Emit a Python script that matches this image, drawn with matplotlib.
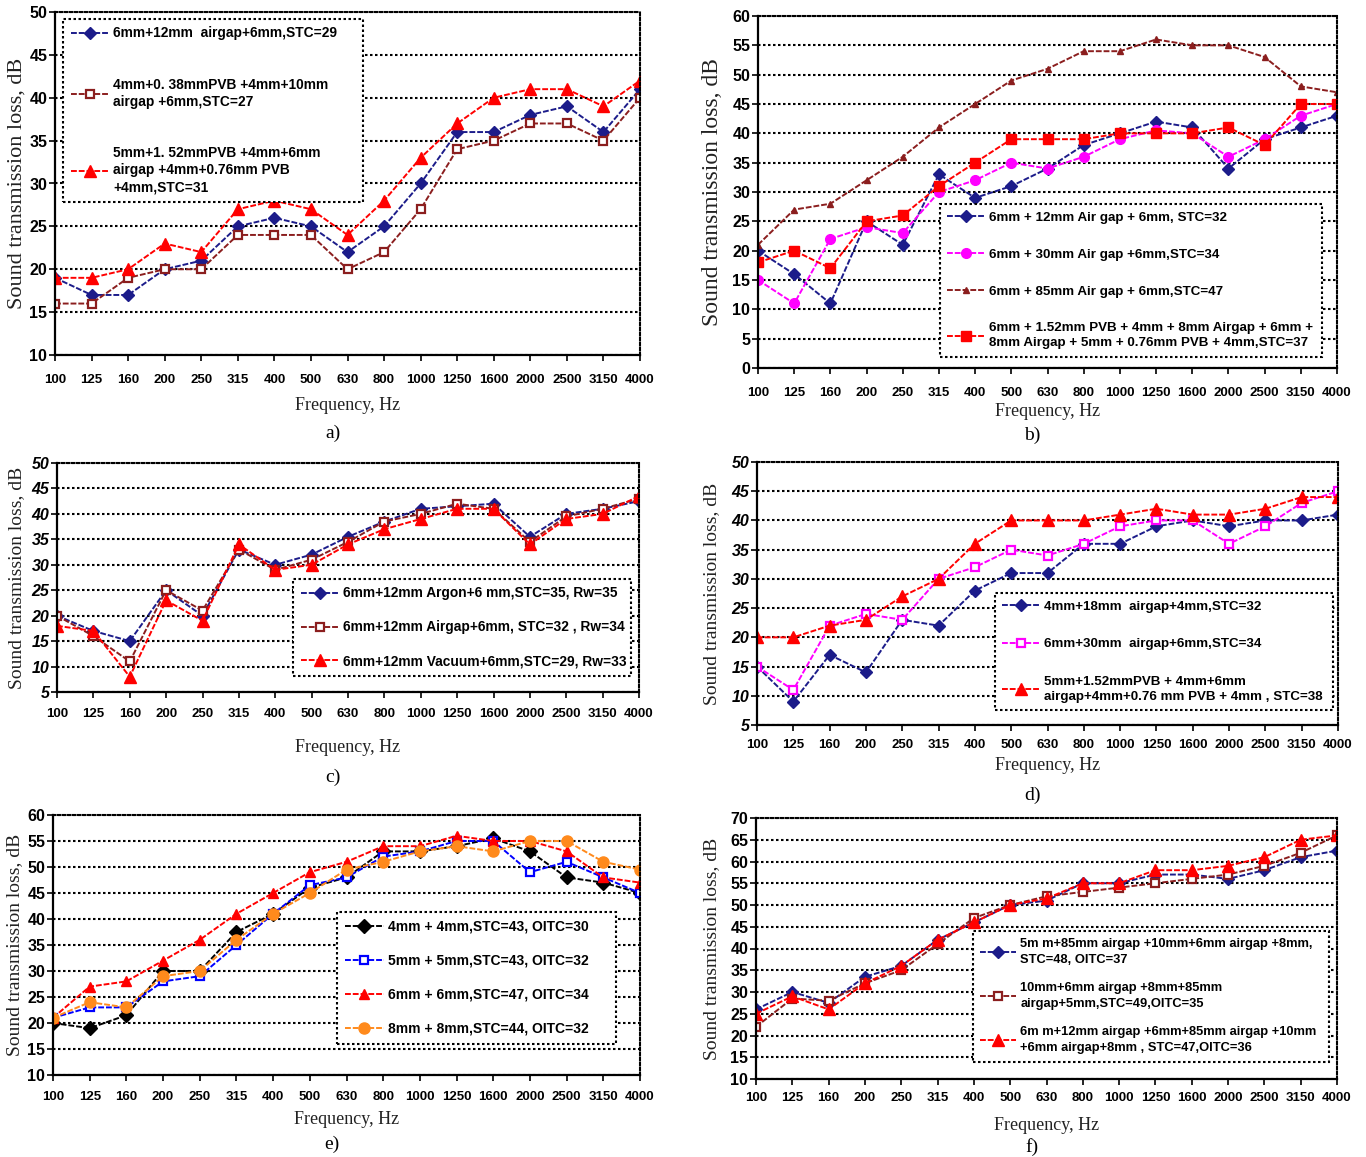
import matplotlib

matplotlib.use("Agg")
import matplotlib.pyplot as plt

W, H = 1366, 1157

FREQS = ["100", "125", "160", "200", "250", "315", "400", "500", "630",
         "800", "1000", "1250", "1600", "2000", "2500", "3150", "4000"]

# a) double glazing vs laminated units
A_AIR12 = [19, 17, 17, 20, 21, 25, 26, 25, 22, 25, 30, 36, 36, 38, 39, 36, 41]
A_PVB038 = [16, 16, 19, 20, 20, 24, 24, 24, 20, 22, 27, 34, 35, 37, 37, 35, 40]
A_PVB152 = [19, 19, 20, 23, 22, 27, 28, 27, 24, 28, 33, 37, 40, 41, 41, 39, 42]

# b) air gap width
B_AIR12 = [20, 16, 11, 25, 21, 33, 29, 31, 34, 38, 40, 42, 41, 34, 39, 41, 43]
B_AIR30 = [15, 11, 22, 24, 23, 30, 32, 35, 34, 36, 39, 40.5, 40, 36, 39, 43, 45]
B_AIR85 = [21, 27, 28, 32, 36, 41, 45, 49, 51, 54, 54, 56, 55, 55, 53, 48, 47]
B_TRIPLE = [18, 20, 17, 25, 26, 31, 35, 39, 39, 39, 40, 40, 40, 41, 38, 45, 45]

# c) gas fill
C_ARGON = [20, 17, 15, 25, 20, 33, 30, 32, 35.5, 38.5, 41, 41.5, 42, 35.5, 40, 41, 42.5]
C_AIR = [20, 16, 11, 25, 21, 33, 29, 31, 34.5, 38.5, 40, 42, 41, 34.5, 39.5, 41, 43]
C_VACUUM = [18, 17, 8, 23, 19, 34, 29, 30, 34, 37, 39, 41, 41, 34, 39, 40, 43.5]

# d) thin units vs laminated
D_AIR18 = [15, 9, 17, 14, 23, 22, 28, 31, 31, 36, 36, 39, 40, 39, 40, 40, 41]
D_AIR30 = [15, 11, 22, 24, 23, 30, 32, 35, 34, 36, 39, 40, 40, 36, 39, 43, 45]
D_PVB = [20, 20, 22, 23, 27, 30, 36, 40, 40, 40, 41, 42, 41, 41, 42, 44, 44]

# e) pane thickness
E_4MM = [20, 19, 21.5, 30, 30, 37.5, 41, 46, 48, 53, 53, 54, 55.5, 53, 48, 47, 45]
E_5MM = [21, 23, 23, 28, 29, 35, 41, 46.5, 48, 52, 53, 55, 55, 49, 51, 48, 45]
E_6MM = [21, 27, 28, 32, 36, 41, 45, 49, 51, 54, 54, 56, 55, 55, 53, 48, 47]
E_8MM = [21, 24, 23, 29, 30, 36, 41, 45, 49.5, 51, 53, 54, 53, 55, 55, 51, 49.5]

# f) triple glazing with wide gaps
F_UNIT1 = [26, 30, 27.5, 33.5, 36, 42, 46, 50, 51, 55, 55, 57, 57, 56, 58, 61, 62.5]
F_UNIT2 = [22, 28.5, 28, 32, 35, 41, 47, 50, 52, 53, 54, 55, 56, 57, 59, 62, 66]
F_UNIT3 = [25, 29, 26, 32, 36, 42, 46, 50, 51.5, 55, 55, 58, 58, 59, 61, 65, 66]

NAVY = "#1c1c8a"
DRED = "#8b1e1e"
RED = "#ff0000"
MAG = "#ff00ff"
BLUE = "#0000ff"
ORANGE = "#ff8a1c"

SANS = ["Liberation Sans", "DejaVu Sans"]
SERIF = "Liberation Serif"


def rect(l, t, r, b):
    return [l / W, 1 - b / H, (r - l) / W, (b - t) / H]


def fx(x):
    return x / W


def fy(y):
    return 1 - y / H


def panel(fig, box, ylim, series, leg_box, leg_size, spacing, line_sp, italic_y,
          xpad, ylab_x, ylab_size, xlab_y, letter, letter_y):
    ax = fig.add_axes(rect(*box))
    x = list(range(len(FREQS)))
    for vals, label, color, marker, hollow, ms in series:
        ax.plot(x, vals, color=color, lw=1.4, ls=(0, (3, 1)), marker=marker,
                ms=ms, mfc="white" if hollow else color, mec=color,
                mew=1.6 if hollow else 1, label=label)
    ax.set_xlim(0, len(FREQS) - 1)
    ax.set_ylim(*ylim)
    ax.set_yticks(range(ylim[0], ylim[1] + 1, 5))
    ax.set_xticks(x)
    ax.set_xticklabels(FREQS, fontsize=9.5, fontweight="bold", family=SANS)
    for t in ax.get_yticklabels():
        t.set_fontsize(11.5)
        t.set_fontweight("bold")
        t.set_family(SANS)
        if italic_y:
            t.set_style("italic")
    ax.tick_params(axis="x", length=4, width=1.2, pad=xpad)
    ax.tick_params(axis="y", length=4, width=1.2, pad=1.5)
    ax.yaxis.grid(True, color="black", ls=(0, (1.2, 1.2)), lw=1.5)
    ax.set_axisbelow(True)
    for s in ("top", "right"):
        ax.spines[s].set_linestyle((0, (1.2, 1.2)))
        ax.spines[s].set_linewidth(1.5)
    for s in ("left", "bottom"):
        ax.spines[s].set_linewidth(1.6)

    l, t, r, b = leg_box
    leg = ax.legend(loc="upper left", bbox_to_anchor=(fx(l), fy(t), fx(r) - fx(l), 0.001),
                    bbox_transform=fig.transFigure, mode="expand", borderaxespad=0,
                    prop={"family": SANS, "weight": "bold", "size": leg_size},
                    labelspacing=spacing, handlelength=2.8, handletextpad=0.3,
                    fancybox=False, framealpha=1, borderpad=0.55)
    fr = leg.get_frame()
    fr.set_edgecolor("black")
    fr.set_linestyle((0, (1.2, 1.2)))
    fr.set_linewidth(1.5)
    for txt in leg.get_texts():
        txt.set_linespacing(line_sp)

    cx = (box[0] + box[2]) / 2
    cy = (box[1] + box[3]) / 2
    fig.text(fx(ylab_x), fy(cy), "Sound transmission loss, dB", rotation=90,
             ha="center", va="center", family=SERIF, fontsize=ylab_size, color="#222222")
    fig.text(fx(cx), fy(xlab_y), "Frequency, Hz", ha="center", va="center",
             family=SERIF, fontsize=13, color="#222222")
    fig.text(fx(cx - 15), fy(letter_y), letter, ha="center", va="center",
             family=SERIF, fontsize=14)
    return ax


fig = plt.figure(figsize=(W / 100, H / 100), dpi=100)

panel(fig, (55, 12, 640, 355), (10, 50), [
    (A_AIR12, "6mm+12mm  airgap+6mm,STC=29", NAVY, "D", False, 6),
    (A_PVB038, "4mm+0. 38mmPVB +4mm+10mm\nairgap +6mm,STC=27", DRED, "s", True, 6),
    (A_PVB152, "5mm+1. 52mmPVB +4mm+6mm\nairgap +4mm+0.76mm PVB\n+4mm,STC=31", RED, "^", False, 8),
], (63, 20, 363, 197), 9.9, 2.7, 1.3, False, 9.5, 17, 16, 406, "a)", 433)

panel(fig, (758, 16, 1337, 368), (0, 60), [
    (B_AIR12, "6mm + 12mm Air gap + 6mm, STC=32", NAVY, "D", False, 6),
    (B_AIR30, "6mm + 30mm Air gap +6mm,STC=34", MAG, "o", False, 7),
    (B_AIR85, "6mm + 85mm Air gap + 6mm,STC=47", DRED, "^", False, 5),
    (B_TRIPLE, "6mm + 1.52mm PVB + 4mm + 8mm Airgap + 6mm +\n"
               "8mm Airgap + 5mm + 0.76mm PVB + 4mm,STC=37", RED, "s", False, 7),
], (940, 205, 1322, 358), 9.6, 1.85, 1.35, False, 10, 712, 17, 412, "b)", 435)

panel(fig, (57, 463, 639, 692), (5, 50), [
    (C_ARGON, "6mm+12mm Argon+6 mm,STC=35, Rw=35", NAVY, "D", False, 6),
    (C_AIR, "6mm+12mm Airgap+6mm, STC=32 , Rw=34", DRED, "s", True, 6),
    (C_VACUUM, "6mm+12mm Vacuum+6mm,STC=29, Rw=33", RED, "^", False, 8),
], (293, 580, 631, 682), 9.9, 1.45, 1.3, True, 7.5, 17, 14, 748, "c)", 777)

panel(fig, (757, 462, 1338, 725), (5, 50), [
    (D_AIR18, "4mm+18mm  airgap+4mm,STC=32", NAVY, "D", False, 6),
    (D_AIR30, "6mm+30mm  airgap+6mm,STC=34", MAG, "s", True, 6),
    (D_PVB, "5mm+1.52mmPVB + 4mm+6mm\nairgap+4mm+0.76 mm PVB + 4mm , STC=38", RED, "^", False, 8),
], (995, 594, 1333, 714), 9.6, 1.9, 1.35, True, 6, 712, 14, 766, "d)", 795)

panel(fig, (53, 815, 640, 1075), (10, 60), [
    (E_4MM, "4mm + 4mm,STC=43, OITC=30", "black", "D", False, 7),
    (E_5MM, "5mm + 5mm,STC=43, OITC=32", BLUE, "s", True, 6),
    (E_6MM, "6mm + 6mm,STC=47, OITC=34", RED, "^", False, 7),
    (E_8MM, "8mm + 8mm,STC=44, OITC=32", ORANGE, "o", False, 8),
], (337, 913, 616, 1051), 10, 1.45, 1.3, False, 7.5, 15, 14, 1120, "e)", 1144)

panel(fig, (756, 818, 1337, 1079), (10, 70), [
    (F_UNIT1, "5m m+85mm airgap +10mm+6mm airgap +8mm,\nSTC=48, OITC=37", NAVY, "D", False, 6),
    (F_UNIT2, "10mm+6mm airgap +8mm+85mm\nairgap+5mm,STC=49,OITC=35", DRED, "s", True, 6),
    (F_UNIT3, "6m m+12mm airgap +6mm+85mm airgap +10mm\n+6mm airgap+8mm , STC=47,OITC=36", RED, "^", False, 8),
], (973, 932, 1329, 1076), 9.3, 1.2, 1.5, False, 5.5, 712, 14, 1126, "f)", 1147)

fig.savefig("out.png", dpi=100)
